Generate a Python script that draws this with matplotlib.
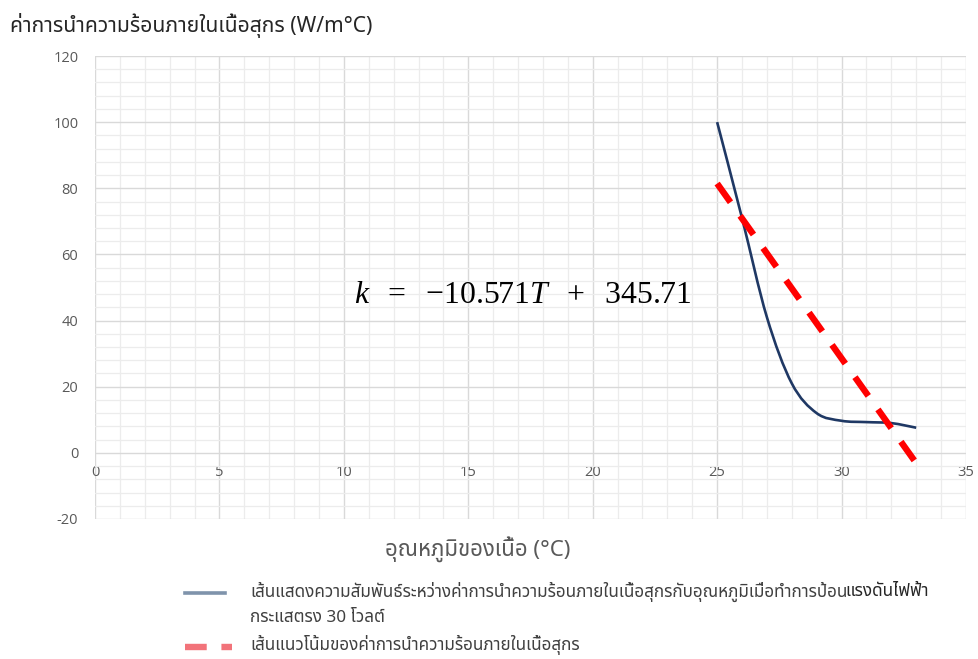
import matplotlib
matplotlib.use('Agg')
import matplotlib.pyplot as plt
from matplotlib.path import Path
from matplotlib.patches import PathPatch
from matplotlib.lines import Line2D
from matplotlib.ticker import MultipleLocator
import numpy as np

# ---- data ----
temps = [25, 26, 27, 28, 29, 30, 31, 32, 33]
conductivity = [100, 71, 41, 21, 12, 9.7, 9.3, 9.0, 7.6]
trend_slope = -10.571
trend_intercept = 345.71
trend_range = [25, 33]

title_text = 'ค่าการนำความร้อนภายในเนื้อสุกร (W/m°C)'
xlabel_text = 'อุณหภูมิของเนื้อ (°C)'
legend1_regular = 'เส้นแสดงความสัมพันธ์ระหว่างค่าการนำความร้อนภายในเนื้อสุกรกับอุณหภูมิเมื่อทำการป้อน'
legend1_bold = 'แรงดันไฟฟ้า'
legend1_line2 = 'กระแสตรง 30 โวลต์'
legend2_text = 'เส้นแนวโน้มของค่าการนำความร้อนภายในเนื้อสุกร'

THAI = ['Noto Sans Thai', 'DejaVu Sans']
plt.rcParams['font.family'] = THAI
plt.rcParams['axes.unicode_minus'] = False
plt.rcParams['mathtext.fontset'] = 'custom'
plt.rcParams['mathtext.rm'] = 'Liberation Serif'
plt.rcParams['mathtext.it'] = 'Liberation Serif:italic'

W, H = 979, 659
fig = plt.figure(figsize=(W / 100, H / 100), dpi=100)
ax = fig.add_axes([95 / W, 1 - 519 / H, (966 - 95) / W, (519 - 56) / H])

ax.set_xlim(0, 35)
ax.set_ylim(-20, 120)
ax.xaxis.set_major_locator(MultipleLocator(5))
ax.xaxis.set_minor_locator(MultipleLocator(1))
ax.yaxis.set_major_locator(MultipleLocator(20))
ax.yaxis.set_minor_locator(MultipleLocator(4))
ax.grid(which='major', color='#d9d9d9', lw=1.0)
ax.grid(which='minor', color='#ececec', lw=0.9)
ax.set_axisbelow(True)
for s in ax.spines.values():
    s.set_visible(False)
ax.spines['bottom'].set_position(('data', 0))
ax.tick_params(which='both', length=0)
ax.tick_params(axis='both', labelsize=10.5, labelcolor='#595959')
ax.tick_params(axis='x', pad=9)
ax.tick_params(axis='y', pad=12)
for lab in ax.get_xticklabels() + ax.get_yticklabels():
    lab.set_family(['Open Sans', 'DejaVu Sans'])

# smooth (Excel-like Catmull-Rom Bezier) series line
pts = np.column_stack([temps, conductivity]).astype(float)
verts = [pts[0]]
codes = [Path.MOVETO]
n = len(pts)
for i in range(n - 1):
    p0 = pts[max(i - 1, 0)]
    p1 = pts[i]
    p2 = pts[i + 1]
    p3 = pts[min(i + 2, n - 1)]
    c1 = p1 + (p2 - p0) / 6.0
    c2 = p2 - (p3 - p1) / 6.0
    verts += [c1, c2, p2]
    codes += [Path.CURVE4] * 3
path = Path(verts, codes)
ax.add_patch(PathPatch(path, facecolor='none', edgecolor='#1f3864', lw=1.9, zorder=3))

# trend line
tx = np.array(trend_range, dtype=float)
ty = trend_slope * tx + trend_intercept
ax.plot(tx, ty, color='#ff0000', lw=4.6, dashes=(3.6, 2.6), solid_capstyle='butt',
        dash_capstyle='butt', zorder=4)

# equation
ax.text(0.491, 0.484, r'$k\ \ =\ \ {-}10.571T\ \ +\ \ 345.71$', transform=ax.transAxes,
        fontsize=22.9, ha='center', va='center', color='black', zorder=5)

# title and axis label
fig.text(10 / W, 1 - 25 / H, title_text, fontsize=15.2, fontweight='semibold',
         color='#262626', ha='left', va='center')
fig.text(478 / W, 1 - 550 / H, xlabel_text, fontsize=16, color='#595959',
         ha='center', va='center')

# legend (manual)
fs_leg = 12.3
fig.add_artist(Line2D([185 / W, 225 / W], [1 - 593 / H, 1 - 593 / H], color='#7f93ab', lw=2.6))
fig.add_artist(Line2D([185 / W, 232 / W], [1 - 647 / H, 1 - 647 / H], color='#f2737a', lw=4.6,
                      dashes=(3.4, 2.3)))
t1 = fig.text(250 / W, 1 - 592 / H, legend1_regular, fontsize=fs_leg, color='#404040',
              ha='left', va='center')
fig.canvas.draw()
bb = t1.get_window_extent()
fig.text((bb.x1 - 2) / W, 1 - 592 / H, legend1_bold, fontsize=fs_leg, color='#262626',
         fontweight='bold', ha='left', va='center')
fig.text(250 / W, 1 - 618 / H, legend1_line2, fontsize=fs_leg, color='#404040',
         ha='left', va='center')
fig.text(250 / W, 1 - 645 / H, legend2_text, fontsize=fs_leg, color='#404040',
         ha='left', va='center')

fig.savefig('out.png', dpi=100)
